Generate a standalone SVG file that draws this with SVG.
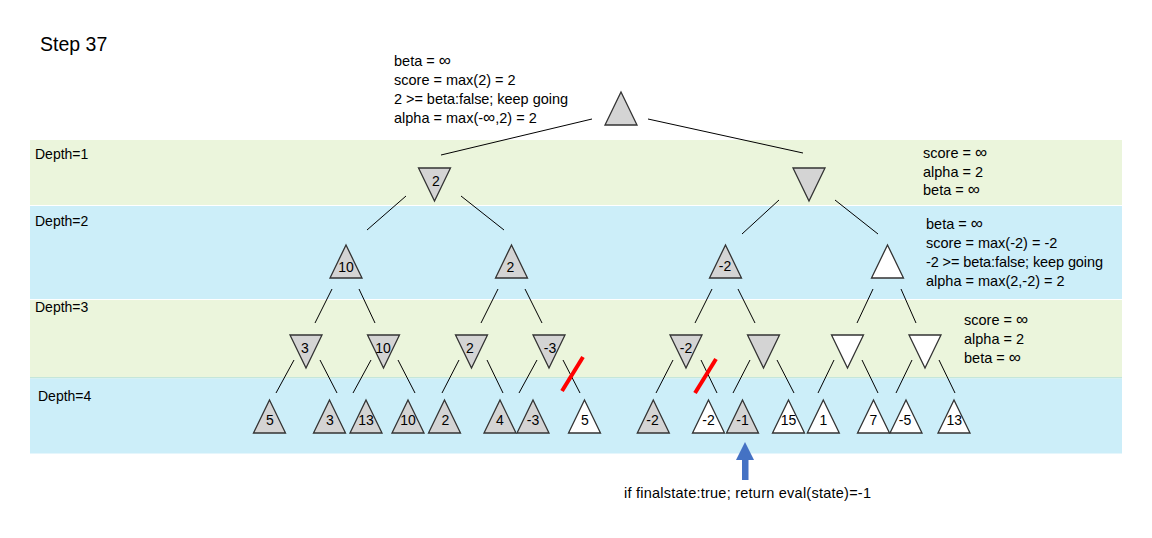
<svg xmlns="http://www.w3.org/2000/svg" width="1152" height="538" viewBox="0 0 1152 538">
<style>
text{font-family:"Liberation Sans",Arial,sans-serif;font-size:14px;fill:#000}
.a{font-size:14.5px}
.inf{font-size:17px}
.lbl{text-anchor:middle}
.g{fill:#D4D4D4;stroke:#333;stroke-width:1.3}
.w{fill:#fff;stroke:#333;stroke-width:1.3}
.e{stroke:#000;stroke-width:1;fill:none}
.cut{stroke:#FF0000;stroke-width:4}
</style>
<defs>
<path id="up" d="M0 0 L16 33 L-16 33 Z"/>
<path id="dn" d="M-16 0 L16 0 L0 33 Z"/>
</defs>
<rect width="1152" height="538" fill="#fff"/>
<g id="bands">
<rect x="30" y="140" width="1092" height="65" fill="#EBF5DC"/>
<rect x="30" y="206" width="1092" height="93" fill="#CCEEF9"/>
<rect x="30" y="300" width="1092" height="77" fill="#EBF5DC"/>
<rect x="30" y="377" width="1092" height="1.5" fill="#C4E6DA"/>
<rect x="30" y="378.5" width="1092" height="75" fill="#CCEEF9"/>
<text x="35" y="159">Depth=1</text>
<text x="35" y="226">Depth=2</text>
<text x="35" y="312">Depth=3</text>
<text x="38" y="401">Depth=4</text>
</g>
<text x="40" y="51" style="font-size:19.5px">Step 37</text>
<g id="annot-root" class="a">
<text class="a" x="394" y="66">beta = <tspan class="inf">∞</tspan></text>
<text class="a" x="394" y="85">score = max(2) = 2</text>
<text class="a" x="394" y="104" textLength="174" lengthAdjust="spacing">2 &gt;= beta:false; keep going</text>
<text class="a" x="394" y="123">alpha = max(-<tspan class="inf">∞</tspan>,2) = 2</text>
</g>
<g id="annot-d1">
<text class="a" x="923" y="158">score = <tspan class="inf">∞</tspan></text>
<text class="a" x="923" y="176.5">alpha = 2</text>
<text class="a" x="923" y="195">beta = <tspan class="inf">∞</tspan></text>
</g>
<g id="annot-d2">
<text class="a" x="926" y="229">beta = <tspan class="inf">∞</tspan></text>
<text class="a" x="926" y="248">score = max(-2) = -2</text>
<text class="a" x="926" y="267" textLength="177" lengthAdjust="spacing">-2 &gt;= beta:false; keep going</text>
<text class="a" x="926" y="286">alpha = max(2,-2) = 2</text>
</g>
<g id="annot-d3">
<text class="a" x="964" y="325">score = <tspan class="inf">∞</tspan></text>
<text class="a" x="964" y="344">alpha = 2</text>
<text class="a" x="964" y="363">beta = <tspan class="inf">∞</tspan></text>
</g>
<g id="connectors">
<line class="e" x1="592" y1="119" x2="441" y2="155"/>
<line class="e" x1="648" y1="119" x2="803" y2="153"/>
<line class="e" x1="406" y1="196" x2="367" y2="230"/>
<line class="e" x1="461" y1="196" x2="504" y2="230"/>
<line class="e" x1="779" y1="200" x2="742" y2="234"/>
<line class="e" x1="835" y1="200" x2="878" y2="234"/>
<line class="e" x1="332" y1="289" x2="315" y2="323"/>
<line class="e" x1="359" y1="289" x2="375" y2="323"/>
<line class="e" x1="498" y1="289" x2="481" y2="323"/>
<line class="e" x1="525" y1="289" x2="542" y2="323"/>
<line class="e" x1="712" y1="289" x2="695" y2="323"/>
<line class="e" x1="738" y1="289" x2="755" y2="323"/>
<line class="e" x1="873" y1="289" x2="857" y2="323"/>
<line class="e" x1="901" y1="289" x2="916" y2="323"/>
<line class="e" x1="294" y1="360" x2="276" y2="393"/>
<line class="e" x1="320" y1="360" x2="337" y2="393"/>
<line class="e" x1="371" y1="360" x2="353" y2="393"/>
<line class="e" x1="398" y1="360" x2="415" y2="393"/>
<line class="e" x1="459" y1="360" x2="442" y2="393"/>
<line class="e" x1="487" y1="360" x2="503" y2="393"/>
<line class="e" x1="537" y1="360" x2="519" y2="393"/>
<line class="e" x1="563" y1="360" x2="580" y2="393"/>
<line class="e" x1="673" y1="360" x2="656" y2="393"/>
<line class="e" x1="701" y1="360" x2="717" y2="393"/>
<line class="e" x1="750" y1="360" x2="733" y2="393"/>
<line class="e" x1="777" y1="360" x2="794" y2="393"/>
<line class="e" x1="834" y1="360" x2="818" y2="393"/>
<line class="e" x1="862" y1="360" x2="878" y2="393"/>
<line class="e" x1="912" y1="360" x2="896" y2="393"/>
<line class="e" x1="939" y1="360" x2="955" y2="393"/>
<line class="cut" x1="583" y1="357" x2="562" y2="391"/>
<line class="cut" x1="716" y1="359" x2="695" y2="393"/>
</g>
<g id="root"><use href="#up" class="g" x="621" y="92"/></g>
<g id="d1-a"><use href="#dn" class="g" x="434.5" y="168"/><text class="lbl" x="436" y="186">2</text></g>
<g id="d1-b"><use href="#dn" class="g" x="809" y="168"/></g>
<g id="d2-a"><use href="#up" class="g" x="346" y="245"/><text class="lbl" x="346" y="272">10</text></g>
<g id="d2-b"><use href="#up" class="g" x="511.5" y="245"/><text class="lbl" x="510.5" y="272">2</text></g>
<g id="d2-c"><use href="#up" class="g" x="725.5" y="245"/><text class="lbl" x="725" y="271">-2</text></g>
<g id="d2-d"><use href="#up" class="w" x="887.5" y="245"/></g>
<g id="d3-a"><use href="#dn" class="g" x="306" y="335"/><text class="lbl" x="305" y="353">3</text></g>
<g id="d3-b"><use href="#dn" class="g" x="383.5" y="335"/><text class="lbl" x="383" y="353">10</text></g>
<g id="d3-c"><use href="#dn" class="g" x="471.5" y="335"/><text class="lbl" x="470" y="353">2</text></g>
<g id="d3-d"><use href="#dn" class="g" x="549" y="335"/><text class="lbl" x="550" y="353">-3</text></g>
<g id="d3-e"><use href="#dn" class="g" x="686" y="335"/><text class="lbl" x="686" y="353">-2</text></g>
<g id="d3-f"><use href="#dn" class="g" x="763.5" y="335"/></g>
<g id="d3-g"><use href="#dn" class="w" x="847.5" y="335"/></g>
<g id="d3-h"><use href="#dn" class="w" x="925" y="335"/></g>
<g id="d4-1"><use href="#up" class="g" x="269.5" y="400"/><text class="lbl" x="270" y="425">5</text></g>
<g id="d4-2"><use href="#up" class="g" x="329.5" y="400"/><text class="lbl" x="330" y="425">3</text></g>
<g id="d4-3"><use href="#up" class="g" x="366" y="400"/><text class="lbl" x="366" y="425">13</text></g>
<g id="d4-4"><use href="#up" class="g" x="408" y="400"/><text class="lbl" x="408" y="425">10</text></g>
<g id="d4-5"><use href="#up" class="g" x="444.5" y="400"/><text class="lbl" x="445.5" y="425">2</text></g>
<g id="d4-6"><use href="#up" class="g" x="500" y="400"/><text class="lbl" x="500" y="425">4</text></g>
<g id="d4-7"><use href="#up" class="g" x="533" y="400"/><text class="lbl" x="533" y="425">-3</text></g>
<g id="d4-8"><use href="#up" class="w" x="584.5" y="400"/><text class="lbl" x="585" y="425">5</text></g>
<g id="d4-9"><use href="#up" class="g" x="653.3" y="400"/><text class="lbl" x="652.5" y="425">-2</text></g>
<g id="d4-10"><use href="#up" class="w" x="708.5" y="400"/><text class="lbl" x="708.5" y="425">-2</text></g>
<g id="d4-11"><use href="#up" class="g" x="742.5" y="400"/><text class="lbl" x="742.5" y="425">-1</text></g>
<g id="d4-12"><use href="#up" class="w" x="788.5" y="400"/><text class="lbl" x="788.5" y="425">15</text></g>
<g id="d4-13"><use href="#up" class="w" x="823.3" y="400"/><text class="lbl" x="823.3" y="425">1</text></g>
<g id="d4-14"><use href="#up" class="w" x="873.5" y="400"/><text class="lbl" x="873.5" y="425">7</text></g>
<g id="d4-15"><use href="#up" class="w" x="906" y="400"/><text class="lbl" x="905" y="425">-5</text></g>
<g id="d4-16"><use href="#up" class="w" x="954" y="400"/><text class="lbl" x="954.3" y="425">13</text></g>
<g id="pointer">
<rect x="742" y="459" width="6.5" height="21" fill="#4472C4"/>
<polygon points="736,460 745,442 754,460" fill="#4472C4"/>
<text class="a" x="624" y="498" textLength="247" lengthAdjust="spacing">if finalstate:true; return  eval(state)=-1</text>
</g>
</svg>
